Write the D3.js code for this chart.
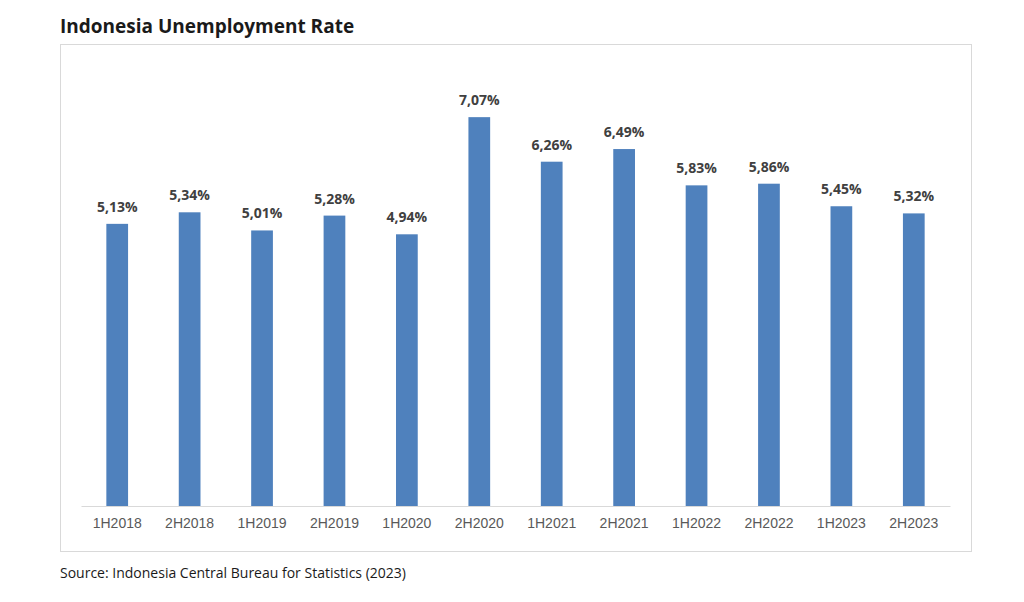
<!DOCTYPE html>
<html><head><meta charset="utf-8">
<script src="https://cdn.jsdelivr.net/npm/d3@7"></script>
<style>body{margin:0;background:#fff}svg{font-family:"Open Sans","Liberation Sans",sans-serif}</style>
</head><body><svg id="c" width="1024" height="602"></svg>
<script>
const periods = ['1H2018','2H2018','1H2019','2H2019','1H2020','2H2020','1H2021','2H2021','1H2022','2H2022','1H2023','2H2023'];
const rates = [5.13,5.34,5.01,5.28,4.94,7.07,6.26,6.49,5.83,5.86,5.45,5.32];

const svg = d3.select('#c');
svg.append('text').attr('x', 60).attr('y', 33).attr('font-size', 19).attr('font-weight', 'bold')
  .attr('fill', '#1a1a1a').text('Indonesia Unemployment Rate');
svg.append('rect').attr('x', 60.5).attr('y', 44.5).attr('width', 911).attr('height', 507)
  .attr('fill', 'none').attr('stroke', '#d9d9d9');

const x = d3.scaleBand().domain(periods).range([81, 950]).paddingInner(0.7).paddingOuter(0.35);
const y = d3.scaleLinear().domain([0, 8]).range([506, 66]);

svg.selectAll('.bar').data(rates).join('rect')
  .attr('x', (d, i) => x(periods[i])).attr('width', x.bandwidth())
  .attr('y', d => y(d)).attr('height', d => y(0) - y(d)).attr('fill', '#4f81bd');

svg.selectAll('.lbl').data(rates).join('text')
  .attr('x', (d, i) => x(periods[i]) + x.bandwidth() / 2).attr('y', d => y(d) - 12)
  .attr('text-anchor', 'middle').attr('font-size', 14).attr('font-weight', 'bold').attr('fill', '#404040')
  .text(d => d.toFixed(2).replace('.', ',') + '%');

const ax = svg.append('g').attr('transform', `translate(0,${y(0)})`)
  .call(d3.axisBottom(x).tickSize(0).tickPadding(12));
ax.select('.domain').attr('stroke', '#d9d9d9');
ax.selectAll('text').attr('font-size', 14).attr('fill', '#595959').attr('font-family', null);

svg.append('text').attr('x', 60).attr('y', 578).attr('font-size', 14).attr('fill', '#1a1a1a')
  .text('Source: Indonesia Central Bureau for Statistics (2023)');
</script></body></html>
